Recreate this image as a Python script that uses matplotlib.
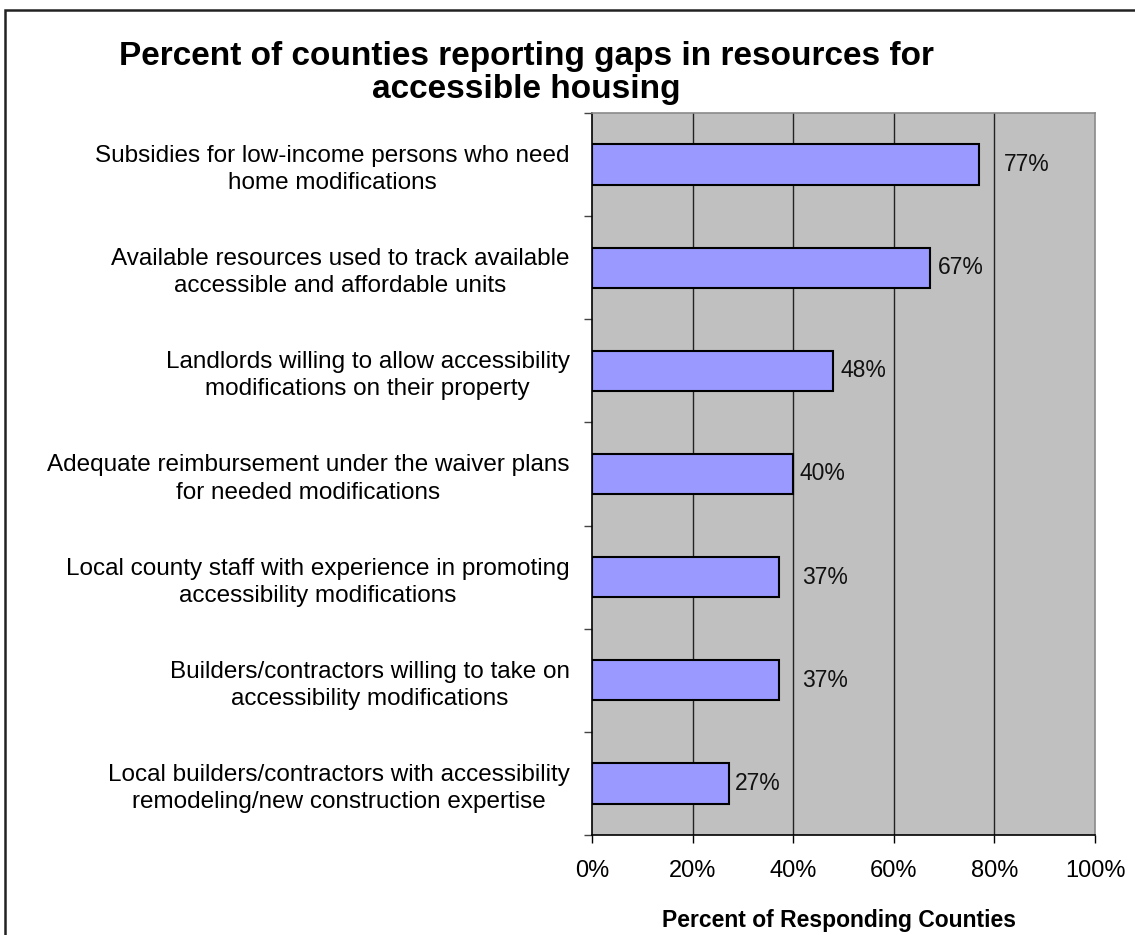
import matplotlib
matplotlib.use("Agg")
import matplotlib.pyplot as plt
from matplotlib.patches import Rectangle
from matplotlib.ticker import FixedLocator

plt.rcParams['font.family'] = ['Liberation Sans', 'DejaVu Sans']

# data, top to bottom as drawn
categories = [
    "Subsidies for low-income persons who need\nhome modifications",
    "Available resources used to track available\naccessible and affordable units",
    "Landlords willing to allow accessibility\nmodifications on their property",
    "Adequate reimbursement under the waiver plans\nfor needed modifications",
    "Local county staff with experience in promoting\naccessibility modifications",
    "Builders/contractors willing to take on\naccessibility modifications",
    "Local builders/contractors with accessibility\nremodeling/new construction expertise",
]
values = [77, 67.2, 47.9, 40, 37.2, 37.2, 27.2]
value_labels = ["77%", "67%", "48%", "40%", "37%", "37%", "27%"]
x_ticks = [0, 20, 40, 60, 80, 100]
x_tick_labels = ["0%", "20%", "40%", "60%", "80%", "100%"]

# gap between bar end and its label (Excel placed them unevenly)
label_gap = [4.8, 1.5, 1.4, 1.2, 4.6, 4.6, 1.2]

fig = plt.figure(figsize=(11.35, 9.35), dpi=100)
ax = fig.add_axes([0.5216, 0.1070, 0.4432, 0.7721])
ax.set_facecolor('#C0C0C0')

n = len(categories)
ypos = list(range(n))
ax.barh(ypos, values, height=0.39, color='#9999FF', edgecolor='black',
        linewidth=1.5, zorder=3)

for y, v, lab, g in zip(ypos, values, value_labels, label_gap):
    ax.text(v + g, y, lab, va='center', ha='left', fontsize=16.5,
            color='#111111', zorder=4)

ax.set_xlim(0, 100)
ax.set_ylim(n - 0.5, -0.5)

ax.set_xticks(x_ticks)
ax.set_xticklabels(x_tick_labels, fontsize=17)
ax.tick_params(axis='x', length=6, width=1, pad=12, color='black')

ax.set_yticks(ypos)
ax.set_yticklabels(categories, fontsize=17.5, multialignment='center',
                   linespacing=1.3)
ax.tick_params(axis='y', which='major', length=0, pad=16)
ax.yaxis.set_minor_locator(FixedLocator([i - 0.5 for i in range(n + 1)]))
ax.tick_params(axis='y', which='minor', length=6, width=1, color='#444444')

for xv in x_ticks[1:-1]:
    ax.axvline(xv, color='#222222', linewidth=1, zorder=1)

ax.spines['left'].set_color('black')
ax.spines['bottom'].set_color('black')
ax.spines['top'].set_color('#8a8a8a')
ax.spines['right'].set_color('#8a8a8a')
for s in ax.spines.values():
    s.set_linewidth(1.2)

# x axis title placed by hand, Excel puts it low in the frame
fig.text(0.739, 1 - 920 / 935, "Percent of Responding Counties",
         ha='center', va='center', fontsize=16.5, fontweight='bold')

fig.text(0.464, 1 - 73 / 935,
         "Percent of counties reporting gaps in resources for\naccessible housing",
         ha='center', va='center', fontsize=24, fontweight='bold',
         linespacing=1.05)

# outer chart frame (cut off on right and bottom)
frame = Rectangle((5 / 1135, -0.1), 1.2, 1.1 - 10 / 935,
                  transform=fig.transFigure, fill=False,
                  edgecolor='#222222', linewidth=1.8)
fig.patches.append(frame)

fig.savefig("out.png", dpi=100)
